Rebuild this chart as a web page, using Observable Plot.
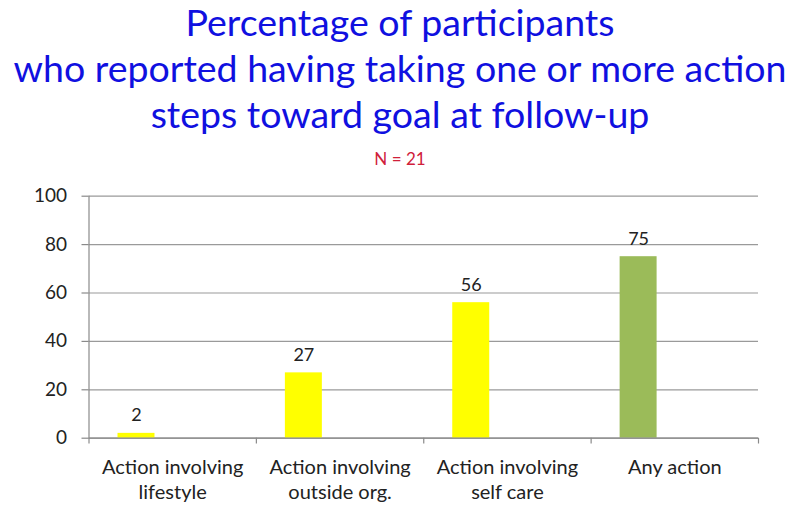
<!DOCTYPE html>
<html>
<head>
<meta charset="utf-8">
<script src="https://cdn.jsdelivr.net/npm/d3@7"></script>
<script src="https://cdn.jsdelivr.net/npm/@observablehq/plot@0.6"></script>
<style>
  html, body { margin: 0; padding: 0; background: #fff; }
  body { width: 800px; height: 505px; overflow: hidden; font-family: Lato, "Open Sans", sans-serif; }
  #head { position: relative; width: 800px; height: 170px; }
  .t { position: absolute; left: 0; width: 800px; text-align: center; color: #1010e0; font-size: 37.5px; line-height: 44px; white-space: nowrap; }
  #n { position: absolute; left: 0; width: 800px; text-align: center; color: #d0203a; font-size: 17px; line-height: 20px; }
  #chart svg { display: block; }
</style>
</head>
<body>
<div id="head">
  <div class="t" style="top:0px">Percentage of participants</div>
  <div class="t" style="top:46px">who reported having taking one or more action</div>
  <div class="t" style="top:92px">steps toward goal at follow-up</div>
  <div id="n" style="top:149px">N = 21</div>
</div>
<div id="chart"></div>
<script>
const categories = ["Action involving\nlifestyle", "Action involving\noutside org.", "Action involving\nself care", "Any action"];
const values = [2, 27, 56, 75];
const colors = ["#ffff00", "#ffff00", "#ffff00", "#9bbb59"];
const yTicks = [0, 20, 40, 60, 80, 100];

const rows = categories.map((c, i) => ({cat: c, i, value: values[i], color: colors[i]}));
const bounds = d3.range(categories.length + 1);

const chart = Plot.plot({
  width: 800,
  height: 335,
  marginLeft: 88.5,
  marginRight: 42,
  marginTop: 25.7,
  marginBottom: 67.3,
  style: {fontFamily: "Lato, 'Open Sans', sans-serif", background: "#fff"},
  x: {domain: [0, categories.length], axis: null},
  y: {domain: [0, 100], axis: null},
  marks: [
    Plot.gridY(yTicks, {stroke: "#9a9a9a", strokeOpacity: 1, strokeWidth: 1.2}),
    Plot.axisY(yTicks, {label: null, tickSize: 7, tickPadding: 15, fontSize: 19, stroke: "#8a8a8a", fill: "#222", strokeWidth: 1.2}),
    Plot.ruleX([0], {y1: 0, y2: 100, stroke: "#8a8a8a", strokeWidth: 1.2}),
    Plot.ruleX(bounds, {x: d => d, y1: 0, y2: -2.4, stroke: "#8a8a8a", strokeWidth: 1.2}),
    Plot.rectY(rows, {x1: d => d.i, x2: d => d.i + 1, y1: 0, y2: "value", fill: "color", insetLeft: 29, insetRight: 101.4}),
    Plot.ruleY([0], {stroke: "#8a8a8a", strokeWidth: 1.2}),
    Plot.text(rows, {x: d => d.i + 0.5, y: "value", text: d => String(d.value), dx: -36.2, dy: -12, lineAnchor: "bottom", fontSize: 18, fill: "#222"}),
    Plot.text(rows, {x: d => d.i + 0.5, y: 0, text: "cat", lineAnchor: "top", dy: 17.6, lineHeight: 1.25, fontSize: 20, fill: "#222"})
  ]
});
document.getElementById("chart").appendChild(chart);
</script>
</body>
</html>
